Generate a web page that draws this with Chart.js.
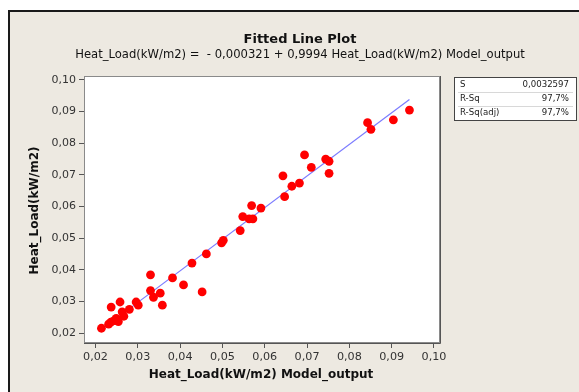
<!DOCTYPE html>
<html>
<head>
<meta charset="utf-8">
<script src="https://cdn.jsdelivr.net/npm/chart.js@4.4.1/dist/chart.umd.min.js"></script>
<style>
  html, body { margin: 0; padding: 0; background: #fff; }
  #wrap { width: 579px; height: 392px; }
</style>
</head>
<body>
<div id="wrap"><canvas id="fitChart" width="579" height="392"></canvas></div>
<script>
const modelOutput = [0.0214, 0.0231, 0.0236, 0.0237, 0.0244, 0.0249, 0.0254, 0.0258, 0.0263, 0.0267,
  0.0280, 0.0296, 0.0301, 0.0330, 0.0330, 0.0337, 0.0353, 0.0358, 0.0382, 0.0408,
  0.0428, 0.0452, 0.0462, 0.0498, 0.0502, 0.0542, 0.0548, 0.0563, 0.0572, 0.0569,
  0.0591, 0.0643, 0.0647, 0.0664, 0.0682, 0.0694, 0.0710, 0.0744, 0.0752, 0.0752,
  0.0843, 0.0851, 0.0904, 0.0942];
const heatLoad = [0.0215, 0.0228, 0.0234, 0.0282, 0.0239, 0.0246, 0.0236, 0.0298, 0.0267, 0.0253,
  0.0275, 0.0298, 0.0288, 0.0384, 0.0334, 0.0313, 0.0326, 0.0288, 0.0374, 0.0352,
  0.0421, 0.0330, 0.0450, 0.0485, 0.0493, 0.0524, 0.0568, 0.0561, 0.0561, 0.0603,
  0.0595, 0.0697, 0.0631, 0.0664, 0.0674, 0.0763, 0.0724, 0.0750, 0.0743, 0.0705,
  0.0865, 0.0844, 0.0874, 0.0905];

const intercept = -0.000321;
const slope = 0.9994;
const statLabels = ['S', 'R-Sq', 'R-Sq(adj)'];
const statValues = ['0,0032597', '97,7%', '97,7%'];

const xTicks = [0.02, 0.03, 0.04, 0.05, 0.06, 0.07, 0.08, 0.09, 0.10];
const yTicks = [0.02, 0.03, 0.04, 0.05, 0.06, 0.07, 0.08, 0.09, 0.10];

const points = modelOutput.map((x, i) => ({ x: x, y: heatLoad[i] }));
const xLo = Math.min(...modelOutput), xHi = Math.max(...modelOutput);
const fitLine = [xLo, xHi].map(x => ({ x: x, y: intercept + slope * x }));

const fmt = v => v.toFixed(2).replace('.', ',');
const FONT = '"DejaVu Sans", sans-serif';

const decor = {
  id: 'decor',
  beforeDraw(chart) {
    const c = chart.ctx, a = chart.chartArea;
    c.save();
    c.fillStyle = '#fff';
    c.fillRect(0, 0, chart.width, chart.height);
    c.fillStyle = '#ede9e1';
    c.fillRect(9, 11, chart.width - 9, chart.height - 11);
    c.fillStyle = '#1a1a1a';
    c.fillRect(8, 10, chart.width - 8, 2);
    c.fillRect(8, 10, 2, chart.height - 10);
    // plot region
    c.fillStyle = '#fff';
    c.fillRect(a.left, a.top, a.right - a.left, a.bottom - a.top);
    c.strokeStyle = '#8a8a8a';
    c.lineWidth = 1;
    c.strokeRect(a.left + 0.5, a.top + 0.5, a.right - a.left - 1, a.bottom - a.top - 1);
    c.strokeStyle = '#555';
    c.beginPath();
    c.moveTo(a.right + 0.5, a.top);
    c.lineTo(a.right + 0.5, a.bottom + 0.5);
    c.lineTo(a.left, a.bottom + 0.5);
    c.stroke();
    c.restore();
  },
  afterDraw(chart) {
    const c = chart.ctx, a = chart.chartArea;
    c.save();
    c.fillStyle = '#111';
    c.textAlign = 'center';
    c.textBaseline = 'middle';
    c.font = 'bold 13px ' + FONT;
    c.fillText('Fitted Line Plot', 300, 40);
    c.font = '11.6px ' + FONT;
    c.fillText('Heat_Load(kW/m2) =  - 0,000321 + 0,9994 Heat_Load(kW/m2) Model_output', 300, 55);
    c.font = 'bold 12px ' + FONT;
    c.fillText('Heat_Load(kW/m2) Model_output', 261, 375);
    c.translate(35, (a.top + a.bottom) / 2 + 1);
    c.rotate(-Math.PI / 2);
    c.fillText('Heat_Load(kW/m2)', 0, 0);
    c.restore();

    // stats box
    c.save();
    const bx = 454, by = 77, bw = 123, bh = 44;
    c.fillStyle = '#fff';
    c.fillRect(bx, by, bw, bh);
    c.strokeStyle = '#444';
    c.strokeRect(bx + 0.5, by + 0.5, bw - 1, bh - 1);
    c.strokeStyle = '#d8d8d8';
    c.beginPath();
    c.moveTo(bx + 4, by + 15.5); c.lineTo(bx + bw - 4, by + 15.5);
    c.moveTo(bx + 4, by + 29.5); c.lineTo(bx + bw - 4, by + 29.5);
    c.stroke();
    c.font = '8.6px ' + FONT;
    c.fillStyle = '#222';
    c.textBaseline = 'middle';
    statLabels.forEach((s, i) => {
      c.textAlign = 'left';
      c.fillText(s, bx + 6, by + 8 + i * 14);
      c.textAlign = 'right';
      c.fillText(statValues[i], bx + bw - 8, by + 8 + i * 14);
    });
    c.restore();
  }
};

const ctx = document.getElementById('fitChart').getContext('2d');
new Chart(ctx, {
  data: {
    datasets: [
      {
        type: 'scatter',
        data: points,
        backgroundColor: '#ff0000',
        borderWidth: 0,
        pointRadius: 4.4,
        order: 1
      },
      {
        type: 'line',
        data: fitLine,
        borderColor: 'rgba(100,100,255,0.85)',
        borderWidth: 1.2,
        pointRadius: 0,
        fill: false,
        order: 2
      }
    ]
  },
  options: {
    responsive: false,
    animation: false,
    layout: { padding: { left: 10, top: 76, right: 139, bottom: 4 } },
    plugins: { legend: { display: false }, tooltip: { enabled: false } },
    scales: {
      x: {
        type: 'linear',
        min: 0.01728,
        max: 0.10142,
        afterBuildTicks: s => { s.ticks = xTicks.map(v => ({ value: v })); },
        afterFit: s => { s.height = 45; },
        grid: { drawOnChartArea: false, drawTicks: true, tickLength: 5, color: '#555' },
        border: { display: false },
        ticks: { callback: v => fmt(v), color: '#333', padding: 2, maxRotation: 0,
                 font: { family: FONT, size: 11.2 } }
      },
      y: {
        type: 'linear',
        min: 0.01684,
        max: 0.10126,
        afterBuildTicks: s => { s.ticks = yTicks.map(v => ({ value: v })); },
        afterFit: s => { s.width = 74; },
        grid: { drawOnChartArea: false, drawTicks: true, tickLength: 5, color: '#555' },
        border: { display: false },
        ticks: { callback: v => fmt(v), color: '#333', padding: 3,
                 font: { family: FONT, size: 11 } }
      }
    }
  },
  plugins: [decor]
});
</script>
</body>
</html>
